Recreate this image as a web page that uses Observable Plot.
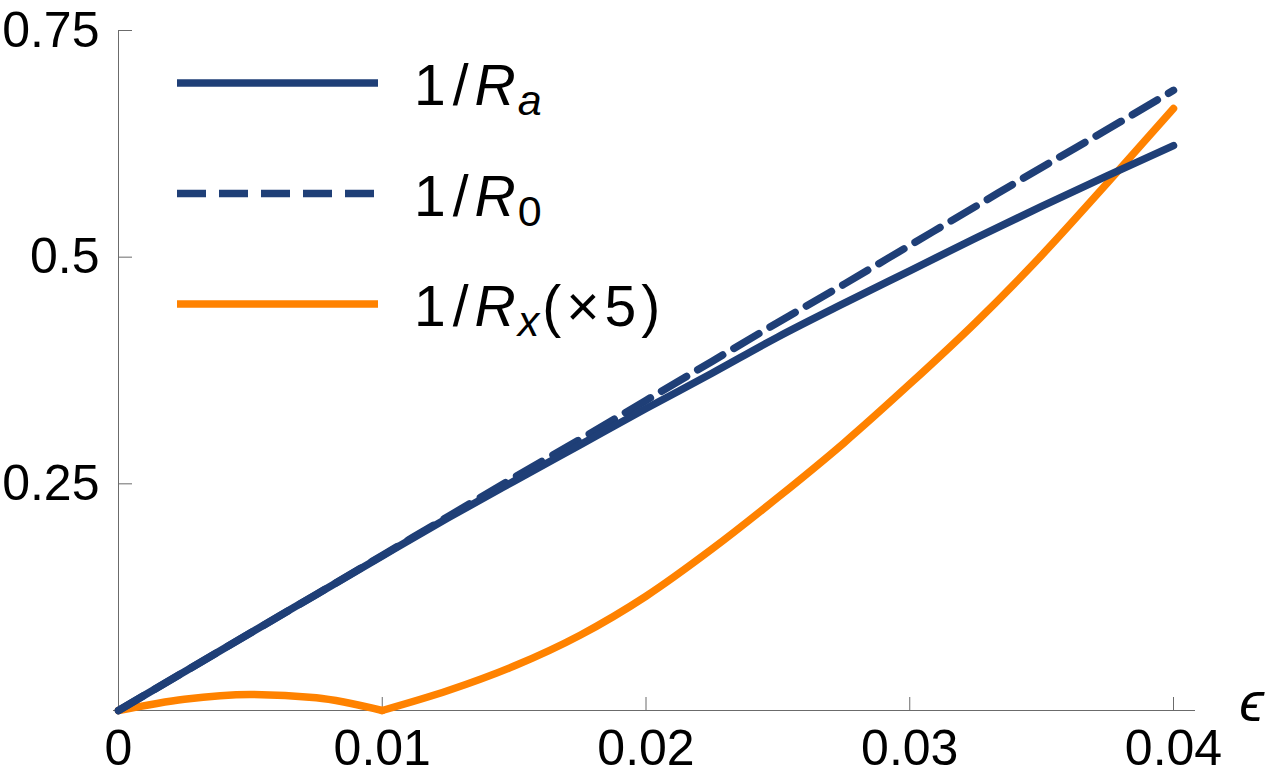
<!DOCTYPE html>
<html>
<head>
<meta charset="utf-8">
<script src="https://cdn.jsdelivr.net/npm/d3@7"></script>
<script src="https://cdn.jsdelivr.net/npm/@observablehq/plot@0.6"></script>
<style>
  html, body { margin: 0; padding: 0; background: white; }
  #wrap { position: relative; width: 1268px; height: 776px; font-family: "Liberation Sans", Arial, sans-serif; }
  #legend { position: absolute; left: 0; top: 0; pointer-events: none; }
</style>
</head>
<body>
<div id="wrap"></div>
<script>
// ---- data ----
const eps = [0, 0.0025, 0.005, 0.0075, 0.01, 0.0125, 0.015, 0.0175, 0.02, 0.0225, 0.025, 0.0275, 0.03, 0.0325, 0.035, 0.0375, 0.04];
const invRa = [0, 0.0428, 0.0855, 0.128, 0.1705, 0.2125, 0.253, 0.293, 0.333, 0.372, 0.412, 0.449, 0.485, 0.521, 0.556, 0.590, 0.623];
const invR0 = [0, 0.0428, 0.0855, 0.128, 0.171, 0.214, 0.257, 0.299, 0.342, 0.385, 0.428, 0.470, 0.513, 0.556, 0.599, 0.641, 0.684];
const invRx5 = [0, 0.0125, 0.0177, 0.0140, 0, 0.022, 0.049, 0.083, 0.126, 0.178, 0.235, 0.295, 0.360, 0.428, 0.502, 0.582, 0.664];
const xTicks = [0, 0.01, 0.02, 0.03, 0.04];
const xTickLabels = ["0", "0.01", "0.02", "0.03", "0.04"];
const yTicks = [0, 0.25, 0.5, 0.75];
const yTickLabels = ["", "0.25", "0.5", "0.75"];
const xAxisLabel = "ϵ";
const seriesKeys = ["Ra", "R0", "Rx"];
const seriesSub = ["a", "0", "x"];
const seriesSubItalic = [true, false, true];
const seriesSuffix = [[], [], ["(", "×", "5", ")"]];

// ---- styles ----
const blue = "#1f3f77";
const orange = "#ff8200";
const axisColor = "#6b6b6b";
const lw = 7.5;
const dash = "29,13";
const font = '"Liberation Sans", Arial, sans-serif';

// ---- tables ----
const rowsRa = eps.map((e, i) => ({e, v: invRa[i]}));
const rowsR0 = eps.map((e, i) => ({e, v: invR0[i]}));
const rowsRx = eps.map((e, i) => ({e, v: invRx5[i], seg: e <= 0.01 ? "a" : "b"}))
  .concat([{e: eps[4], v: invRx5[4], seg: "b"}]);
rowsRx.sort((p, q) => d3.ascending(p.seg, q.seg) || d3.ascending(p.e, q.e));

const W = 1268, H = 776;
const mL = 118, mR = 95, mT = 30, mB = 66;
const plotW = W - mL - mR, plotH = H - mT - mB;

const chart = Plot.plot({
  width: W, height: H,
  marginLeft: mL, marginRight: mR, marginTop: mT, marginBottom: mB,
  x: {domain: [0, 0.04]},
  y: {domain: [0, 0.75]},
  style: {fontFamily: font, background: "white", color: "black", overflow: "visible"},
  marks: [
    Plot.ruleX([0], {x: d => d, stroke: axisColor, strokeWidth: 1}),
    Plot.ruleY([0], {y: d => d, stroke: axisColor, strokeWidth: 1, insetLeft: -5, insetRight: -22}),
    Plot.tickX(xTicks.slice(1), {x: d => d, stroke: axisColor, strokeWidth: 1, insetTop: plotH - 13}),
    Plot.tickY(yTicks.slice(1), {y: d => d, stroke: axisColor, strokeWidth: 1, insetRight: plotW - 14}),
    Plot.axisX({ticks: xTicks, tickSize: 0, tickPadding: 19, fontSize: 50, label: null,
      tickFormat: d => xTickLabels[xTicks.indexOf(d)]}),
    Plot.axisY({ticks: yTicks.slice(1), tickSize: 0, tickPadding: 19, fontSize: 50, label: null,
      tickFormat: d => yTickLabels[yTicks.indexOf(d)]}),
    Plot.text([xAxisLabel], {text: d => d, frameAnchor: "bottom-right", dx: 78, dy: 10, fontSize: 56, fontStyle: "italic", textAnchor: "middle"}),
    Plot.line(rowsRx, {x: "e", y: "v", z: "seg", stroke: orange, strokeWidth: lw, curve: "monotone-x"}),
    Plot.line(rowsR0, {x: "e", y: "v", stroke: blue, strokeWidth: lw, strokeDasharray: dash, curve: "monotone-x"}),
    Plot.line(rowsRa, {x: "e", y: "v", stroke: blue, strokeWidth: lw, curve: "monotone-x"})
  ]
});

const wrap = document.getElementById("wrap");
wrap.appendChild(chart);

// ---- legend (inside the plot area, top-left) ----
const ns = "http://www.w3.org/2000/svg";
const leg = document.createElementNS(ns, "svg");
leg.setAttribute("id", "legend");
leg.setAttribute("width", W);
leg.setAttribute("height", H);
const legColors = [blue, blue, orange];
const legDash = [null, dash, null];
const rowY0 = 83, rowStep = 110.5;
seriesKeys.forEach((k, i) => {
  const y = rowY0 + i * rowStep;
  const ln = document.createElementNS(ns, "line");
  ln.setAttribute("x1", 177); ln.setAttribute("x2", 378);
  ln.setAttribute("y1", y); ln.setAttribute("y2", y);
  ln.setAttribute("stroke", legColors[i]);
  ln.setAttribute("stroke-width", lw);
  if (legDash[i]) ln.setAttribute("stroke-dasharray", legDash[i]);
  leg.appendChild(ln);
  const t = document.createElementNS(ns, "text");
  t.setAttribute("x", 414);
  t.setAttribute("y", y + 22);
  t.setAttribute("font-size", 57);
  t.setAttribute("font-family", font);
  t.setAttribute("fill", "black");
  const parts = [
    {s: "1", dx: 0},
    {s: "/", dx: 7},
    {s: "R", dx: 6, italic: true},
    {s: seriesSub[i], italic: seriesSubItalic[i], size: 43, dy: 10, dx: 2},
  ];
  seriesSuffix[i].forEach((s, j) => parts.push({s, dy: j === 0 ? -10 : 0, dx: j === 0 ? 3 : 5}));
  parts.forEach(p => {
    const ts = document.createElementNS(ns, "tspan");
    ts.textContent = p.s;
    if (p.italic) ts.setAttribute("font-style", "italic");
    if (p.size) ts.setAttribute("font-size", p.size);
    if (p.dy) ts.setAttribute("dy", p.dy);
    if (p.dx) ts.setAttribute("dx", p.dx);
    t.appendChild(ts);
  });
  leg.appendChild(t);
});
wrap.appendChild(leg);
</script>
</body>
</html>
